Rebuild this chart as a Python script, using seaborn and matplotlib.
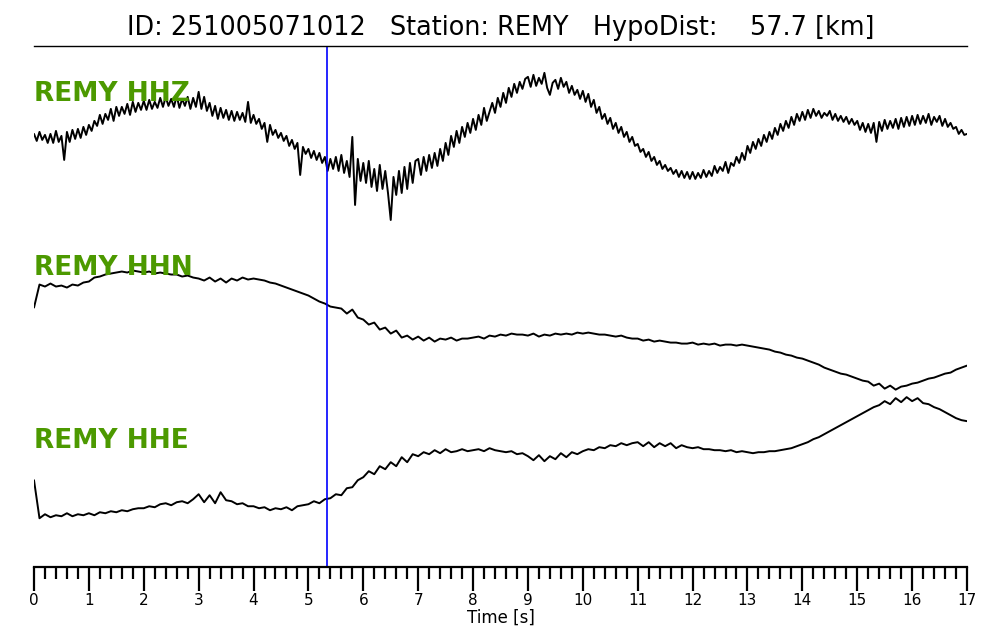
import numpy as np
import pandas as pd
import matplotlib
matplotlib.use("Agg")
import matplotlib.pyplot as plt
import seaborn as sns
from matplotlib.ticker import MultipleLocator

sns.set_theme(style="white")
plt.rcParams['font.family'] = ['DejaVu Sans']
plt.rcParams['text.color'] = 'black'
plt.rcParams['axes.labelcolor'] = 'black'
plt.rcParams['xtick.color'] = 'black'

# event info
event_id = "251005071012"
station = "REMY"
hypo_dist = 57.7
p_pick = 5.34          # seconds
channels = ["HHZ", "HHN", "HHE"]

# amplitudes (counts, one trace spacing = 173.5)
gain = 173.5
dt_z = 0.05
dt_ne = 0.1

hhz = [
    -1, -8, 1, -7, -2, -10, -1, -10, 2, -9, -3, -27, 1, -9, 3, -6, 4, -5, 6, -2,
    8, 2, 12, 7, 18, 9, 19, 13, 24, 12, 26, 17, 26, 19, 29, 18, 31, 21, 30, 23,
    32, 23, 33, 24, 31, 25, 35, 26, 36, 27, 34, 26, 37, 25, 34, 27, 36, 24, 35, 26,
    41, 24, 36, 22, 30, 17, 27, 14, 25, 15, 23, 13, 22, 12, 21, 13, 20, 11, 31, 10,
    18, 9, 14, 4, 10, -9, 8, -2, 3, -5, 0, -8, -3, -13, -7, -16, -10, -42, -14, -21,
    -16, -25, -18, -27, -20, -30, -24, -38, -26, -36, -24, -38, -22, -40, -28, -44, -4, -72, -26, -48,
    -30, -50, -28, -54, -36, -58, -32, -56, -38, -60, -87, -44, -62, -38, -60, -34, -56, -30, -50, -28,
    -26, -42, -24, -38, -22, -35, -20, -33, -16, -28, -10, -22, -3, -14, 2, -10, 6, -4, 10, 0,
    14, 3, 18, 8, 25, 12, 21, 30, 20, 35, 26, 40, 30, 45, 36, 49, 40, 51, 44, 54,
    56, 46, 58, 47, 55, 49, 60, 45, 38, 50, 53, 44, 55, 46, 51, 40, 47, 38, 43, 34,
    42, 31, 39, 26, 33, 20, 26, 14, 19, 9, 15, 4, 10, 0, 6, -4, 1, -9, -4, -13,
    -11, -19, -16, -24, -19, -28, -24, -32, -28, -36, -32, -38, -35, -41, -37, -44, -38, -45, -39, -46,
    -39, -46, -40, -45, -37, -44, -38, -43, -33, -40, -34, -38, -29, -40, -30, -33, -24, -30, -20, -27,
    -13, -20, -9, -16, -6, -13, -2, -9, 1, -6, 5, -2, 9, 2, 12, 5, 16, 8, 19, 12,
    21, 13, 23, 15, 24, 17, 22, 15, 20, 17, 22, 13, 19, 12, 17, 11, 16, 9, 14, 8,
    12, 3, 10, 1, 9, 0, 10, -9, 11, 2, 13, 4, 12, 5, 14, 4, 15, 6, 16, 7,
    17, 8, 18, 9, 17, 10, 19, 8, 16, 11, 17, 7, 14, 6, 10, 4, 6, -1, 3, -2,
    -1,
]

hhn = [
    -1, 22, 20, 23, 20, 21, 19, 22, 21, 24,
    25, 29, 30, 32, 33, 34, 35, 34, 36, 35,
    34, 35, 33, 34, 33, 32, 32, 30, 31, 29,
    28, 26, 29, 25, 28, 24, 28, 26, 29, 27,
    28, 27, 26, 24, 23, 21, 19, 17, 15, 13,
    11, 8, 5, 3, 0, -1, -2, -7, -3, -11,
    -13, -18, -16, -23, -21, -27, -24, -31, -29, -33,
    -30, -34, -31, -35, -32, -33, -31, -34, -32, -32,
    -31, -30, -32, -29, -30, -28, -29, -27, -28, -28,
    -29, -27, -30, -28, -29, -27, -28, -27, -28, -26,
    -27, -26, -27, -28, -28, -29, -30, -29, -31, -32,
    -32, -34, -33, -35, -34, -35, -36, -36, -37, -37,
    -36, -38, -37, -38, -37, -39, -38, -38, -39, -38,
    -39, -40, -41, -42, -43, -45, -46, -48, -49, -51,
    -52, -54, -56, -58, -61, -63, -65, -67, -68, -70,
    -72, -74, -75, -79, -77, -82, -79, -83, -80, -79,
    -77, -76, -74, -72, -71, -69, -67, -66, -63, -61,
    -59,
]

hhe = [
    0, -38, -34, -37, -35, -36, -33, -36, -34, -35,
    -33, -35, -32, -33, -31, -32, -30, -31, -29, -28,
    -28, -26, -27, -24, -23, -25, -22, -21, -23, -19,
    -14, -22, -15, -23, -12, -20, -21, -24, -23, -26,
    -26, -28, -27, -30, -28, -29, -27, -30, -26, -25,
    -24, -21, -23, -19, -18, -14, -15, -8, -7, 0,
    3, 9, 6, 14, 11, 18, 14, 23, 18, 26,
    24, 28, 26, 30, 27, 31, 28, 29, 31, 29,
    30, 31, 29, 32, 30, 29, 28, 29, 26, 27,
    24, 20, 25, 19, 24, 21, 27, 23, 28, 26,
    29, 31, 30, 33, 32, 35, 34, 37, 35, 37,
    38, 34, 38, 33, 37, 34, 37, 32, 35, 33,
    32, 33, 31, 31, 30, 30, 29, 30, 28, 29,
    28, 27, 28, 28, 29, 29, 30, 31, 32, 34,
    36, 38, 41, 43, 46, 49, 52, 55, 58, 61,
    64, 67, 70, 73, 75, 79, 76, 82, 78, 83,
    79, 82, 77, 76, 73, 71, 68, 65, 62, 60,
    59,
]

traces = [(hhz, dt_z), (hhn, dt_ne), (hhe, dt_ne)]

fig = plt.figure(figsize=(10, 6.4), dpi=100)
ax = fig.add_axes([0.034, 0.114, 0.933, 0.814])

for i, (vals, dt) in enumerate(traces):
    df = pd.DataFrame({'t': np.arange(len(vals)) * dt,
                       'amp': -(i + 0.5) + np.array(vals) / gain})
    sns.lineplot(data=df, x='t', y='amp', color='black', linewidth=1.4,
                 sort=False, estimator=None, ax=ax)
    ax.text(0, -(i + 0.316), '%s %s' % (station, channels[i]), color='#4c9900',
            fontsize=19, fontweight='bold', va='baseline', ha='left', zorder=5)

ax.axvline(p_pick, color='#0000ff', linewidth=1.2)

ax.set_xlim(0, 17)
ax.set_ylim(-3, 0)
ax.set_yticks([])
ax.set_ylabel('')
ax.xaxis.set_major_locator(MultipleLocator(1))
ax.xaxis.set_minor_locator(MultipleLocator(0.2))
ax.tick_params(axis='x', which='major', direction='out', length=17, width=1.6,
               labelsize=11, pad=2, bottom=True, colors='black')
ax.tick_params(axis='x', which='minor', direction='out', length=8.5, width=1.6,
               bottom=True, colors='black')
ax.set_xlabel('Time [s]', fontsize=12, labelpad=0)

for side in ['left', 'right']:
    ax.spines[side].set_visible(False)
ax.spines['top'].set_linewidth(1.0)
ax.spines['top'].set_color('black')
ax.spines['bottom'].set_linewidth(1.6)
ax.spines['bottom'].set_color('black')

ax.set_title('ID: %s   Station: %s   HypoDist:    %.1f [km]' % (event_id, station, hypo_dist),
             fontsize=18.4, pad=8, color='black')

plt.savefig('out.png', dpi=100)
